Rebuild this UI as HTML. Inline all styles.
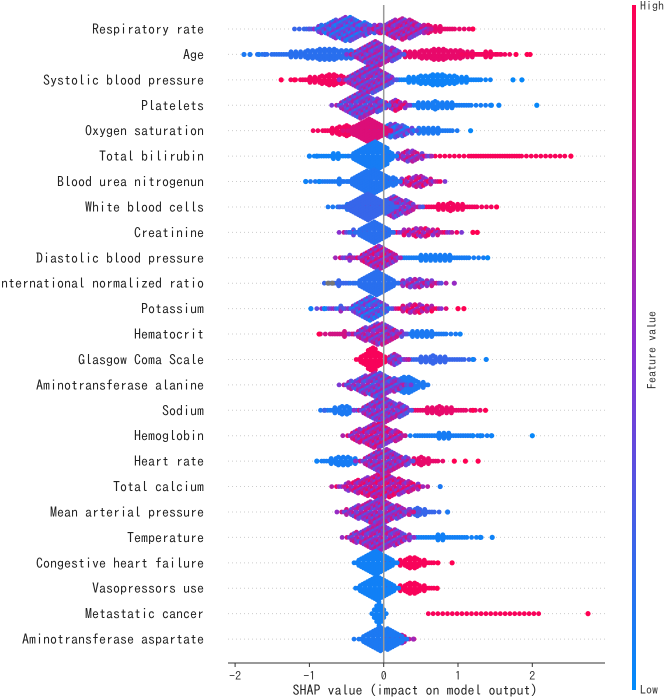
<!DOCTYPE html>
<html><head><meta charset="utf-8"><style>
html,body{margin:0;padding:0;background:#fff;}
svg{display:block;font-family:"IPAGothic","Liberation Sans",sans-serif;}
</style></head><body>
<svg id="chart" width="669" height="698" viewBox="0 0 669 698" xmlns="http://www.w3.org/2000/svg">
<defs><linearGradient id="cb" x1="0" y1="0" x2="0" y2="1"><stop offset="0" stop-color="#ff0052"/><stop offset="0.5" stop-color="#8a2fd0"/><stop offset="1" stop-color="#008bfb"/></linearGradient></defs>
<g id="grid"></g>
<g id="dots"></g>
<line x1="383.7" y1="5" x2="383.7" y2="663" stroke="#999" stroke-width="1.5"/>
<g id="labels"></g>
<g id="xaxis"></g>
<text x="415" y="695" font-size="14" text-anchor="middle" fill="#222">SHAP value (impact on model output)</text>
<rect x="632" y="5" width="4" height="685" fill="url(#cb)"/>
<text x="640" y="10" font-size="12" fill="#333">High</text>
<text x="640" y="694" font-size="12" fill="#333">Low</text>
<text transform="translate(656,350) rotate(-90)" font-size="12" text-anchor="middle" fill="#333">Feature value</text>
</svg>
<script>
const features = ["Respiratory rate","Age","Systolic blood pressure","Platelets","Oxygen saturation","Total bilirubin","Blood urea nitrogenun","White blood cells","Creatinine","Diastolic blood pressure","International normalized ratio","Potassium","Hematocrit","Glasgow Coma Scale","Aminotransferase alanine","Sodium","Hemoglobin","Heart rate","Total calcium","Mean arterial pressure","Temperature","Congestive heart failure","Vasopressors use","Metastatic cancer","Aminotransferase aspartate"];
// blobs: [center SHAP, half-width SHAP, half-height px, feature value 0..1]
const blobs = [
 [[-0.7,0.5,5,0.2],[-0.5,0.5,13,0.3],[-0.1,0.25,5,0.45],[0.6,0.55,4,0.9],[0.25,0.45,12,0.6]],
 [[-0.75,0.95,6,0.15],[0.75,0.85,6,0.9],[1.4,0.35,3,0.95],[-0.1,0.4,14,0.5]],
 [[-0.7,0.55,6,0.95],[0.7,0.75,6,0.05],[-0.2,0.4,15,0.5]],
 [[0.7,0.75,4,0.08],[0.15,0.25,6,0.7],[-0.3,0.4,14,0.45]],
 [[-0.5,0.45,6,0.95],[0.6,0.45,4,0.1],[0.15,0.35,8,0.3],[-0.2,0.35,14,0.85]],
 [[-0.65,0.35,3,0.05],[1.5,1.0,2,0.97],[0.35,0.35,6,0.6],[-0.12,0.35,15,0.08]],
 [[-0.6,0.45,3,0.1],[0.45,0.4,6,0.7],[-0.15,0.4,13,0.12]],
 [[-0.5,0.25,3,0.1],[0.9,0.55,4,0.95],[0.15,0.4,11,0.5],[-0.2,0.4,14,0.2]],
 [[-0.4,0.2,3,0.5],[0.5,0.55,5,0.7],[-0.15,0.3,12,0.15]],
 [[-0.45,0.2,3,0.6],[0.7,0.65,4,0.08],[-0.07,0.35,12,0.65]],
 [[-0.6,0.2,3,0.2],[0.45,0.45,5,0.55],[-0.1,0.35,14,0.15]],
 [[-0.6,0.3,3,0.35],[0.45,0.45,5,0.75],[-0.19,0.35,13,0.3]],
 [[-0.55,0.3,3,0.8],[0.5,0.5,4,0.1],[-0.07,0.4,12,0.55]],
 [[0.65,0.6,4,0.2],[0.15,0.2,6,0.5],[-0.15,0.22,13,0.97]],
 [[0.3,0.35,9,0.1],[-0.1,0.5,13,0.45]],
 [[-0.55,0.3,5,0.1],[0.75,0.55,4,0.9],[0,0.4,14,0.5]],
 [[0.8,0.7,3,0.08],[-0.1,0.45,13,0.65]],
 [[-0.55,0.35,5,0.08],[0.5,0.35,4,0.9],[0.02,0.4,13,0.55]],
 [[-0.05,0.65,13,0.7]],
 [[0.45,0.35,4,0.2],[-0.08,0.55,13,0.55]],
 [[0.75,0.6,3,0.06],[-0.06,0.5,14,0.55]],
 [[0.38,0.35,6,0.97],[-0.1,0.3,14,0.06]],
 [[0.38,0.35,6,0.97],[-0.08,0.3,14,0.06]],
 [[1.35,0.75,1,0.97],[-0.06,0.1,13,0.06]],
 [[0.22,0.2,5,0.7],[-0.02,0.38,13,0.1]]
];
// isolated tail points: [SHAP, feature value]
const tails = [
 [[1.2,1]],
 [[-1.88,0.1],[-1.8,0.1],[-1.68,0.1],[-1.6,0.15],[1.78,1],[1.93,1],[1.97,1]],
 [[-1.38,1],[-1.2,1],[1.74,0.02],[1.86,0.02]],
 [[1.45,0.05],[1.55,0.05],[2.06,0.02]],
 [[1.17,0.02]],
 [[2.52,1],[-1.0,0.05],[-0.9,0.05]],
 [[-1.05,0.05],[-0.87,0.05]],
 [[1.52,1]],
 [[1.2,1],[1.26,1]],
 [[1.4,0.02]],
 [[-0.75,-1],[-0.69,-1],[0.95,0.55]],
 [[-0.98,0.05],[-0.8,0.05],[1.0,1],[1.08,1]],
 [[-0.87,1],[1.03,0.05]],
 [[1.2,0.05],[1.38,0.05]],
 [],
 [[-0.8,0.2],[1.2,1],[1.37,1]],
 [[1.2,0.05],[1.3,0.05],[1.45,0.05],[2.0,0.02]],
 [[-0.9,0.05],[0.95,1],[1.1,1],[1.27,1]],
 [[0.76,0.1]],
 [[0.86,0.1]],
 [[1.3,0.05],[1.46,0.05]],
 [[0.73,1],[0.92,1]],
 [[0.72,1]],
 [[2.75,1]],
 [[0.4,0.6]]
];
const xTicks = [-2,-1,0,1,2];

const NS="http://www.w3.org/2000/svg";
const X0=383.7, XS=74.3, Y0=29, YS=25.42;
const xs=v=>X0+v*XS, ys=i=>Y0+i*YS;
function col(t){
  if(t<0) return "#777";
  t=Math.max(0,Math.min(1,t));
  const a=[0,139,251], m=[138,47,208], b=[255,0,82];
  let c;
  if(t<0.5){const u=t/0.5;c=a.map((v,i)=>v+(m[i]-v)*u);} else {const u=(t-0.5)/0.5;c=m.map((v,i)=>v+(b[i]-v)*u);}
  return "rgb("+c.map(Math.round).join(",")+")";
}
const jit=[0,0.25,-0.25,0.12,-0.12];
function mk(tag,attrs,parent){const e=document.createElementNS(NS,tag);for(const k in attrs)e.setAttribute(k,attrs[k]);parent.appendChild(e);return e;}
const grid=document.getElementById('grid'), dots=document.getElementById('dots'), labels=document.getElementById('labels'), xaxis=document.getElementById('xaxis');
features.forEach((f,i)=>{
  const y=ys(i);
  const gl=mk('line',{x1:228,x2:605,y1:y,y2:y,stroke:'#ccc','stroke-dasharray':'1,3','stroke-width':1},grid);
  
  
  const t=mk('text',{x:204,y:y+5,'font-size':14,'text-anchor':'end',fill:'#222'},labels);
  t.textContent=f;
  
  
  const g=mk('g',{},dots);
  
  
  blobs[i].forEach(b=>{
    const [c,hw,h,fv]=b;
    const x1=xs(c-hw), x2=xs(c+hw), cx=xs(c), hwp=hw*XS;
    const mixed = fv>0.2 && fv<0.8;
    let ci=0;
    for(let x=x1;x<=x2;x+=2.4,ci++){
      const d=Math.abs(x-cx)/hwp;
      const hh=Math.max(1.2,h*(1-d));
      const off=(ci%2)?1.3:0;
      const n=Math.floor((hh-off)/2.6);
      for(let k=-n;k<=n;k++){
        const yy=y+k*2.6+((ci%2)?1.3:0)*(k>=0?1:-1)*(n>0?1:0);
        const fc = mixed ? col(fv+jit[(ci*3+k+20)%5]) : col(fv);
        const dt=mk('circle',{cx:x.toFixed(1),cy:yy.toFixed(1),r:2.4,fill:fc},g);
        
        
      }
    }
  });
  tails[i].forEach(p=>{
    const dt=mk('circle',{cx:xs(p[0]).toFixed(1),cy:y,r:2.6,fill:col(p[1])},g);
    
    
  });
});
mk('line',{x1:228,x2:605,y1:663,y2:663,stroke:'#333','stroke-width':1},xaxis);
xTicks.forEach(v=>{
  const tk=mk('line',{x1:xs(v),x2:xs(v),y1:663,y2:667,stroke:'#333'},xaxis);
  
  
  const tl=mk('text',{x:xs(v),y:680,'font-size':12,'text-anchor':'middle',fill:'#333'},xaxis);
  tl.textContent=(v<0?'\u2212':'')+Math.abs(v);
  
  
});
</script>
</body></html>
